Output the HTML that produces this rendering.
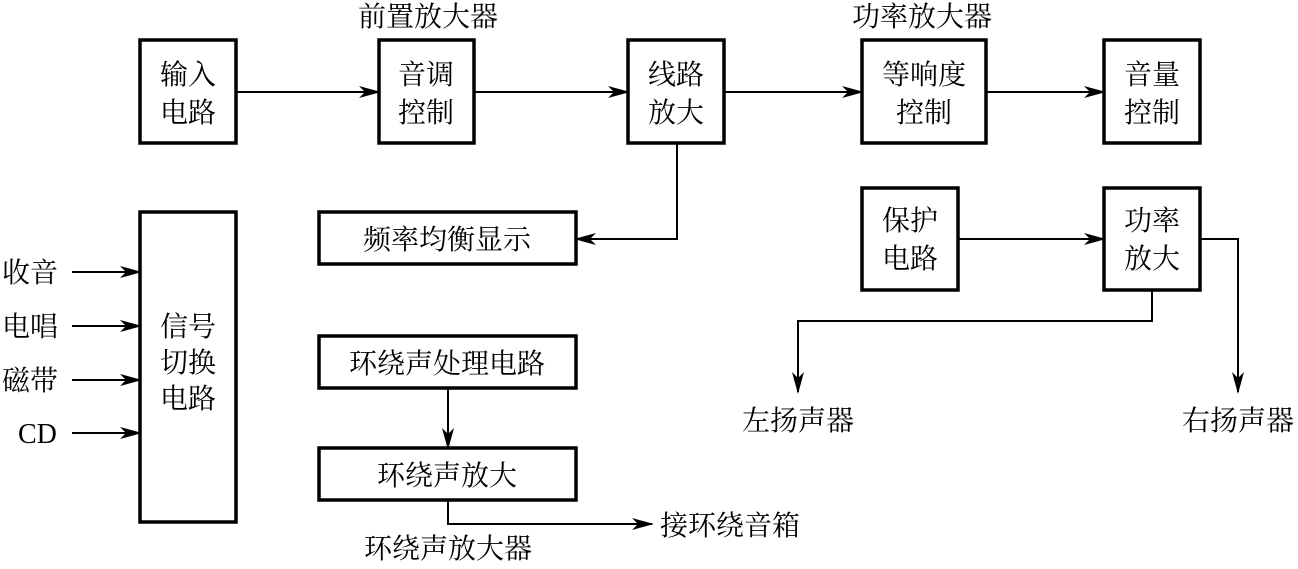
<!DOCTYPE html>
<html><head><meta charset="utf-8"><style>
html,body{margin:0;padding:0;background:#fff;}
svg text{font-family:"Liberation Serif","Noto Serif CJK SC",serif;font-size:28px;fill:#000;}
</style></head><body>
<svg width="1298" height="564" viewBox="0 0 1298 564" xmlns="http://www.w3.org/2000/svg">
<defs><marker id="a" markerWidth="22" markerHeight="12" refX="20" refY="6" orient="auto" markerUnits="userSpaceOnUse"><path d="M0,0 L22,6 L0,12 L6,6 Z" fill="#000"/></marker></defs>
<g fill="none" stroke="#000" stroke-width="3.5">
<rect x="140" y="40" width="96" height="103"/>
<rect x="379" y="40" width="95" height="103"/>
<rect x="628" y="40" width="96" height="103"/>
<rect x="862" y="40" width="124" height="103"/>
<rect x="1104" y="40" width="96" height="103"/>
<rect x="319" y="212" width="257" height="52"/>
<rect x="862" y="188" width="96" height="102"/>
<rect x="1104" y="188" width="96" height="102"/>
<rect x="140" y="212" width="96" height="310"/>
<rect x="319" y="336" width="257" height="52"/>
<rect x="319" y="448" width="257" height="52"/>
</g>
<g fill="none" stroke="#000" stroke-width="2" marker-end="url(#a)">
<line x1="236" y1="92" x2="379" y2="92"/>
<line x1="474" y1="92" x2="628" y2="92"/>
<line x1="724" y1="92" x2="862" y2="92"/>
<line x1="986" y1="92" x2="1104" y2="92"/>
<polyline points="677,143 677,239 576,239"/>
<line x1="958" y1="239" x2="1104" y2="239"/>
<polyline points="1152,290 1152,321 798,321 798,392"/>
<polyline points="1200,239 1238,239 1238,392"/>
<line x1="448" y1="388" x2="448" y2="448"/>
<polyline points="448,500 448,524 652,524"/>
<line x1="72" y1="272" x2="140" y2="272"/>
<line x1="72" y1="326" x2="140" y2="326"/>
<line x1="72" y1="380" x2="140" y2="380"/>
<line x1="72" y1="433" x2="140" y2="433"/>
</g>
<g text-anchor="middle">
<text x="188" y="84">输入</text><text x="188" y="122">电路</text>
<text x="426" y="84">音调</text><text x="426" y="122">控制</text>
<text x="676" y="84">线路</text><text x="676" y="122">放大</text>
<text x="924" y="84">等响度</text><text x="924" y="122">控制</text>
<text x="1152" y="84">音量</text><text x="1152" y="122">控制</text>
<text x="428" y="26">前置放大器</text>
<text x="922" y="26">功率放大器</text>
<text x="447" y="249">频率均衡显示</text>
<text x="910" y="230">保护</text><text x="910" y="268">电路</text>
<text x="1152" y="230">功率</text><text x="1152" y="268">放大</text>
<text x="188" y="336">信号</text><text x="188" y="372">切换</text><text x="188" y="408">电路</text>
<text x="447" y="373">环绕声处理电路</text>
<text x="447" y="485">环绕声放大</text>
<text x="448" y="558">环绕声放大器</text>
<text x="798" y="430">左扬声器</text>
<text x="1238" y="430">右扬声器</text>
</g>
<text x="660" y="535">接环绕音箱</text>
<text x="2" y="282">收音</text>
<text x="2" y="336">电唱</text>
<text x="2" y="390">磁带</text>
<text x="18" y="443">CD</text>
</svg>
</body></html>
